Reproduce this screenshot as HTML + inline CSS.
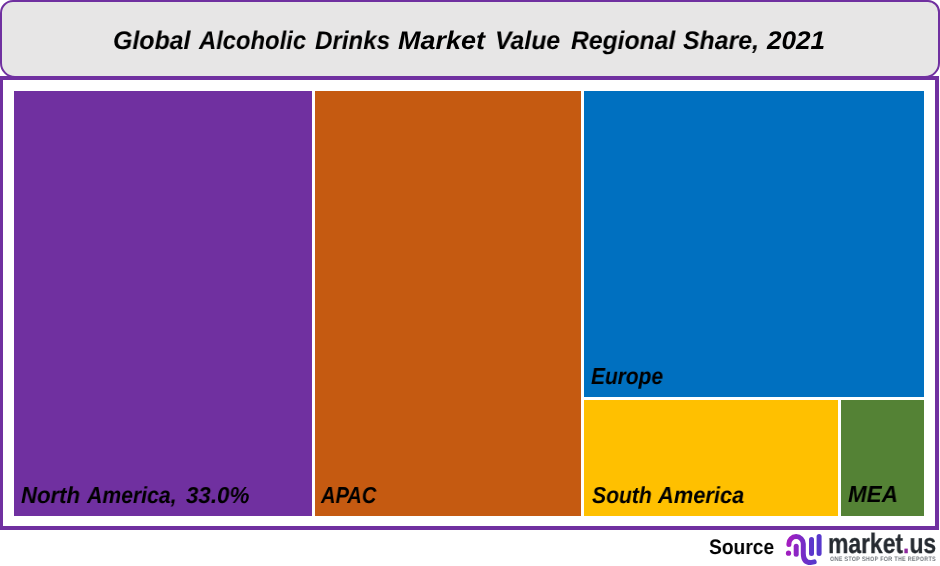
<!DOCTYPE html>
<html>
<head>
<meta charset="utf-8">
<style>
html,body{margin:0;padding:0;}
body{width:940px;height:566px;overflow:hidden;background:#ffffff;position:relative;font-family:"Liberation Sans",Arial,sans-serif;text-rendering:geometricPrecision;}
.abs{position:absolute;}
#titlebox{left:0;top:0;width:940px;height:78px;box-sizing:border-box;border:2px solid #7030a0;border-radius:13px 12px 15px 15px;background:#e7e6e6;}
.tw{will-change:transform;position:absolute;transform-origin:0 0;font-weight:bold;font-style:italic;font-size:25.6px;line-height:30px;color:#000;white-space:nowrap;}
#chart{left:0;top:76px;width:939px;height:454px;box-sizing:border-box;border-style:solid;border-color:#7030a0;border-width:4px 4px 4px 3px;background:#fff;}
.cell{position:absolute;}
.lw{will-change:transform;position:absolute;transform-origin:0 0;font-weight:bold;font-style:italic;font-size:23.1px;line-height:28px;color:#000;white-space:nowrap;}
#src{font-weight:bold;font-size:21px;line-height:24px;color:#000;white-space:nowrap;}
#mkd{font-weight:bold;font-size:28px;line-height:32px;color:#262b31;white-space:nowrap;-webkit-text-stroke:0.3px #262b31;}
#tagd{font-size:6.4px;line-height:7px;font-weight:bold;color:#73787e;white-space:nowrap;letter-spacing:0.35px;}
</style>
</head>
<body>
<div id="titlebox" class="abs"></div>
<div id="chart" class="abs"></div>
<div class="cell" style="left:14px;top:91px;width:298px;height:425px;background:#7030a0"></div>
<div class="cell" style="left:315px;top:91px;width:266px;height:425px;background:#c55a11"></div>
<div class="cell" style="left:584px;top:91px;width:340px;height:306px;background:#0070c0"></div>
<div class="cell" style="left:584px;top:400px;width:254px;height:116px;background:#ffc000"></div>
<div class="cell" style="left:841px;top:400px;width:83px;height:116px;background:#548235"></div>
<span class="tw" style="left:112.73px;top:25.8px;transform:scaleX(0.9722)">Global</span>
<span class="tw" style="left:198.70px;top:25.8px;transform:scaleX(0.9296)">Alcoholic</span>
<span class="tw" style="left:315.06px;top:25.8px;transform:scaleX(0.9410)">Drinks</span>
<span class="tw" style="left:398.05px;top:25.8px;transform:scaleX(1.0537)">Market</span>
<span class="tw" style="left:494.76px;top:25.8px;transform:scaleX(0.9677)">Value</span>
<span class="tw" style="left:570.54px;top:25.8px;transform:scaleX(0.9645)">Regional</span>
<span class="tw" style="left:682.63px;top:25.8px;transform:scaleX(0.9693)">Share,</span>
<span class="tw" style="left:767.40px;top:25.8px;transform:scaleX(1.0214)">2021</span>
<span class="lw" style="left:21.04px;top:480.8px;transform:scaleX(0.9583)">North</span>
<span class="lw" style="left:87.20px;top:480.8px;transform:scaleX(0.9177)">America,</span>
<span class="lw" style="left:185.60px;top:480.8px;transform:scaleX(0.9677)">33.0%</span>
<span class="lw" style="left:321.20px;top:480.8px;transform:scaleX(0.8688)">APAC</span>
<span class="lw" style="left:591.29px;top:361.8px;transform:scaleX(0.9051)">Europe</span>
<span class="lw" style="left:592.10px;top:480.8px;transform:scaleX(0.9141)">South</span>
<span class="lw" style="left:657.60px;top:480.8px;transform:scaleX(0.9467)">America</span>
<span class="lw" style="left:847.53px;top:479.7px;transform:scaleX(0.9694)">MEA</span>
<div class="abs" style="will-change:transform;left:708.8px;top:536.1px;transform-origin:0 0;transform:scaleX(0.915)"><span id="src">Source</span></div>
<svg class="abs" style="left:780px;top:528px" width="50" height="38" viewBox="780 528 50 38">
<defs><linearGradient id="lg" gradientUnits="userSpaceOnUse" x1="789" y1="0" x2="813" y2="0"><stop offset="0" stop-color="#a31dc0"/><stop offset="1" stop-color="#5838cc"/></linearGradient></defs>
<circle cx="788.5" cy="553.2" r="2.6" fill="#9e1ebf"/>
<g fill="none" stroke="url(#lg)" stroke-width="5" stroke-linecap="round">
<path d="M788.9 544.6 L788.9 543.8 A7.2 7.2 0 0 1 803.3 543.8 L803.3 553.5 Q803.3 562.6 810.5 562.6 L814.2 561.9"/>
<path d="M796.2 546.2 L796.2 554.2"/>
<path d="M811.5 539.4 L811.5 553.4"/>
<path d="M819.1 536.6 L819.1 553.5"/>
</g>
</svg>
<div id="mkd" class="abs" style="will-change:transform;left:827.9px;top:527.7px;transform-origin:0 0;transform:scaleX(0.8166)"><span id="mk">market<span style="color:#8e2a9e;-webkit-text-stroke-color:#8e2a9e">.</span>us</span></div>
<div id="tagd" class="abs" style="will-change:transform;left:830.3px;top:556.0px;transform-origin:0 0;transform:scaleX(0.847)"><span id="tag">ONE STOP SHOP FOR THE REPORTS</span></div>
</body>
</html>
